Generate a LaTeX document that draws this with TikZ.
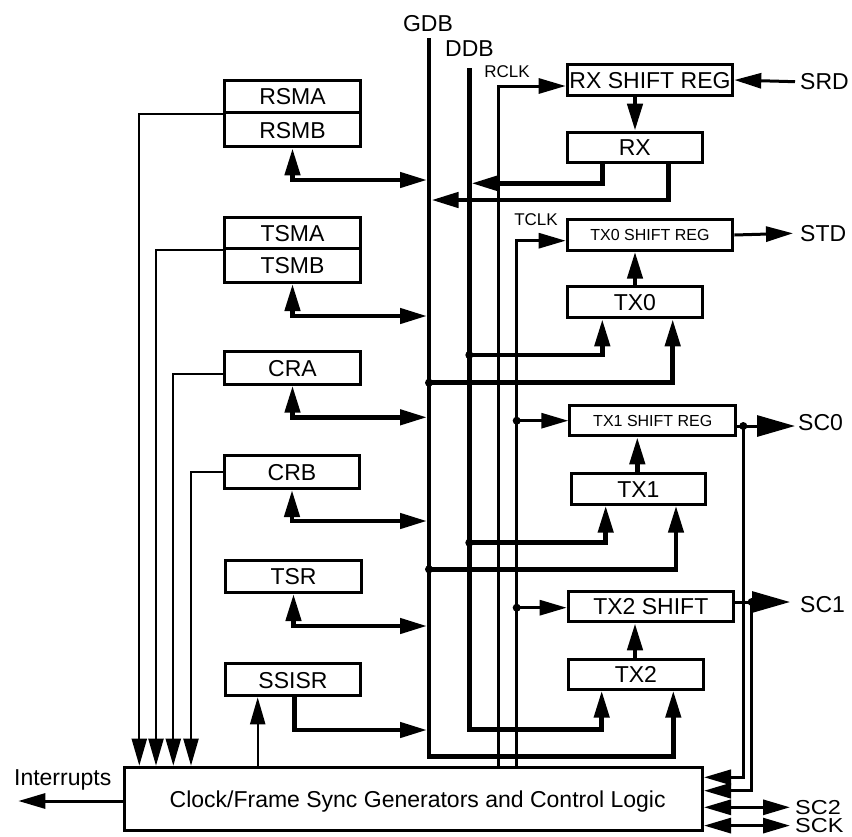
\documentclass[tikz,border=0pt]{standalone}
\usepackage{fontspec}
\setmainfont{Liberation Sans}
\usetikzlibrary{arrows.meta}
\begin{document}
\begin{tikzpicture}[x=1pt,y=-1pt,
  tipA/.tip={Triangle[length=27pt,width=15pt]},
  tipB/.tip={Triangle[length=38pt,width=21pt]},
  box/.style={draw,line width=3pt,inner sep=0pt,font=\fontsize{23}{26}\selectfont,text height=16.5pt,text depth=0pt},
  sbox/.style={box,font=\fontsize{16}{19}\selectfont,text height=11.5pt},
  lbl/.style={inner sep=0pt,font=\fontsize{23}{26}\selectfont,text height=16.5pt,text depth=0pt},
  slbl/.style={lbl,font=\fontsize{17}{20}\selectfont,text height=12.2pt},
  sclbl/.style={lbl,font=\fontsize{23.5}{26}\selectfont,text height=14.6pt},
  bus/.style={line width=4.5pt},
  thk/.style={line width=4.5pt},
  med/.style={line width=3pt},
  thn/.style={line width=2.2pt},
  dot/.style={fill=black}]
\useasboundingbox (0,0) rectangle (852,836);

% boxes
\node[box,minimum width=136pt,minimum height=32.2pt] (RSMA) at (292.5,96.6) {RSMA};
\node[box,minimum width=136pt,minimum height=34.1pt] (RSMB) at (292.5,129.75) {RSMB};
\node[box,minimum width=136pt,minimum height=31.1pt] (TSMA) at (292.5,232.75) {TSMA};
\node[box,minimum width=136pt,minimum height=34.2pt] (TSMB) at (292.5,265.4) {TSMB};
\node[box,minimum width=136pt,minimum height=32.7pt] (CRA) at (292.5,367.85) {CRA};
\node[box,minimum width=135pt,minimum height=33pt] (CRB) at (292,472) {CRB};
\node[box,minimum width=136pt,minimum height=32pt] (TSR) at (293.5,576.5) {TSR};
\node[box,minimum width=135pt,minimum height=32pt] (SSISR) at (293,679.8) {SSISR};
\node[box,minimum width=165.6pt,minimum height=31.6pt] (RXSR) at (650,80) {RX SHIFT REG};
\node[box,minimum width=135.3pt,minimum height=30.6pt] (RX) at (634.85,147.5) {RX};
\node[sbox,minimum width=165.6pt,minimum height=30.4pt] (TX0SR) at (650,235) {TX0 SHIFT REG};
\node[box,minimum width=135.3pt,minimum height=31.3pt] (TX0) at (634.85,302.15) {TX0};
\node[sbox,minimum width=166pt,minimum height=30.3pt] (TX1SR) at (652.8,420.65) {TX1 SHIFT REG};
\node[box,minimum width=133.7pt,minimum height=30.4pt] (TX1) at (638.35,489) {TX1};
\node[box,minimum width=165.3pt,minimum height=30.3pt] (TX2SR) at (650.85,606.65) {TX2 SHIFT};
\node[box,minimum width=135.3pt,minimum height=29.4pt] (TX2) at (635.85,674.5) {TX2};
\node[box,minimum width=577.7pt,minimum height=63.3pt] (CLK) at (413.65,798.85) {\hspace*{8pt}Clock/Frame Sync Generators and Control Logic};

% labels
\node[lbl] (GDB) at (428,23.3) {GDB};
\node[lbl] (DDB) at (469.5,48.5) {DDB};
\node[slbl] (RCLK) at (507,71) {RCLK};
\node[slbl] (TCLK) at (536,219) {TCLK};
\node[lbl,anchor=west] (SRD) at (800,81.7) {SRD};
\node[lbl,anchor=west] (STD) at (800,233.3) {STD};
\node[lbl,anchor=west] (SC0) at (798,422.7) {SC0};
\node[lbl,anchor=west] (SC1) at (800,604.3) {SC1};
\node[sclbl,anchor=west] (SC2) at (795,807.3) {\scalebox{1}[0.86]{SC2}};
\node[sclbl,anchor=west] (SCK) at (795,825.6) {\scalebox{1}[0.86]{SCK}};
\node[lbl] (INT) at (62.7,777.5) {Interrupts};

% coordinates
\coordinate (gdbTop) at (429,38);
\coordinate (gdbBot) at (429,756.7);
\coordinate (ddbTop) at (469.3,68.3);
\coordinate (ddbBot) at (469.3,729.3);
\coordinate (jD0) at (469.3,355);
\coordinate (jG0) at (429,382.7);
\coordinate (jD1) at (469.3,542.7);
\coordinate (jG1) at (429,569.3);
\coordinate (jT1) at (516.7,420.7);
\coordinate (jT2) at (516.7,607.7);
\coordinate (jS0) at (743.3,426);
\coordinate (jS1) at (751.7,602);
\coordinate (intEnd) at (18.3,801);

% buses
\draw[bus,-tipA] (gdbTop) -- (gdbBot) -| (TX2.south -| 673.3,0);
\draw[bus,-tipA] (ddbTop) -- (ddbBot) -| (TX2.south -| 601.7,0);

% clocks
\draw[med,-tipA] (CLK.north -| 498.3,0) |- (RXSR.west |- 0,86);
\draw[med,-tipA] (CLK.north -| 516.7,0) |- (TX0SR.west |- 0,240.7);
\draw[med,-tipA] (jT1) -- (TX1SR.west |- jT1);
\draw[med,-tipA] (jT2) -- (TX2SR.west |- jT2);

% RX outputs
\draw[thk,-tipA] (RX.south -| 602.3,0) |- (471.5,183.3);
\draw[thk,-tipA] (RX.south -| 668.3,0) |- (431.5,200);
\draw[thk,-tipA] (RXSR.south -| 635,0) -- (RX.north -| 635,0);

% TX inputs
\draw[thk,-tipA] (jD0) -| (TX0.south -| 602.3,0);
\draw[thk,-tipA] (jG0) -| (TX0.south -| 672.7,0);
\draw[thk,-tipA] (jD1) -| (TX1.south -| 605.7,0);
\draw[thk,-tipA] (jG1) -| (TX1.south -| 676,0);
\draw[thk,-tipA] (TX0.north -| 635,0) -- (TX0SR.south -| 635,0);
\draw[thk,-tipA] (TX1.north -| 637.3,0) -- (TX1SR.south -| 637.3,0);
\draw[thk,-tipA] (TX2.north -| 635,0) -- (TX2SR.south -| 635,0);

% left registers to GDB
\draw[thk,tipA-tipA] (RSMB.south) |- (427,180);
\draw[thk,tipA-tipA] (TSMB.south) |- (427,316);
\draw[thk,tipA-tipA] (CRA.south) |- (427,417.3);
\draw[thk,tipA-tipA] (CRB.south) |- (427,521);
\draw[thk,tipA-tipA] (TSR.south) |- (427,626);
\draw[thk,-tipA] (SSISR.south -| 294.3,0) |- (427,730);

% left status lines to clock logic
\draw[thn,-tipA] (RSMA.south west) -| (CLK.north -| 139.3,0);
\draw[thn,-tipA] (TSMA.south west) -| (CLK.north -| 156,0);
\draw[thn,-tipA] (CRA.west |- 0,374) -| (CLK.north -| 173.3,0);
\draw[thn,-tipA] (CRB.west) -| (CLK.north -| 191,0);
\draw[thn,-tipA] (CLK.north -| 257.7,0) -- (SSISR.south -| 257.7,0);

% right side I/O
\draw[med,-tipA] ([xshift=-5pt]SRD.west) -- (RXSR.east);
\draw[med,-tipA] (TX0SR.east) -- ([xshift=-7pt]STD.west);
\draw[med,-tipB] (TX1SR.east |- jS0) -- ([xshift=-3pt]SC0.west |- jS0);
\draw[med,-tipB] (TX2SR.east |- jS1) -- ([xshift=-10pt]SC1.west |- jS1);
\draw[med,-tipA] (jS0) |- (CLK.east |- 0,777.3);
\draw[med,-tipA] (jS1) |- (CLK.east |- 0,790.7);
\draw[med,tipA-tipA] (CLK.east |- SC2.west) -- ([xshift=-5pt]SC2.west);
\draw[med,tipA-tipA] (CLK.east |- SCK.west) -- ([xshift=-5pt]SCK.west);
\draw[med,-tipA] (CLK.west |- intEnd) -- (intEnd);

% junction dots
\foreach \j in {jD0,jG0,jD1,jG1,jT1,jT2,jS0,jS1}
  \fill[dot] (\j) circle (4pt);
\end{tikzpicture}
\end{document}
